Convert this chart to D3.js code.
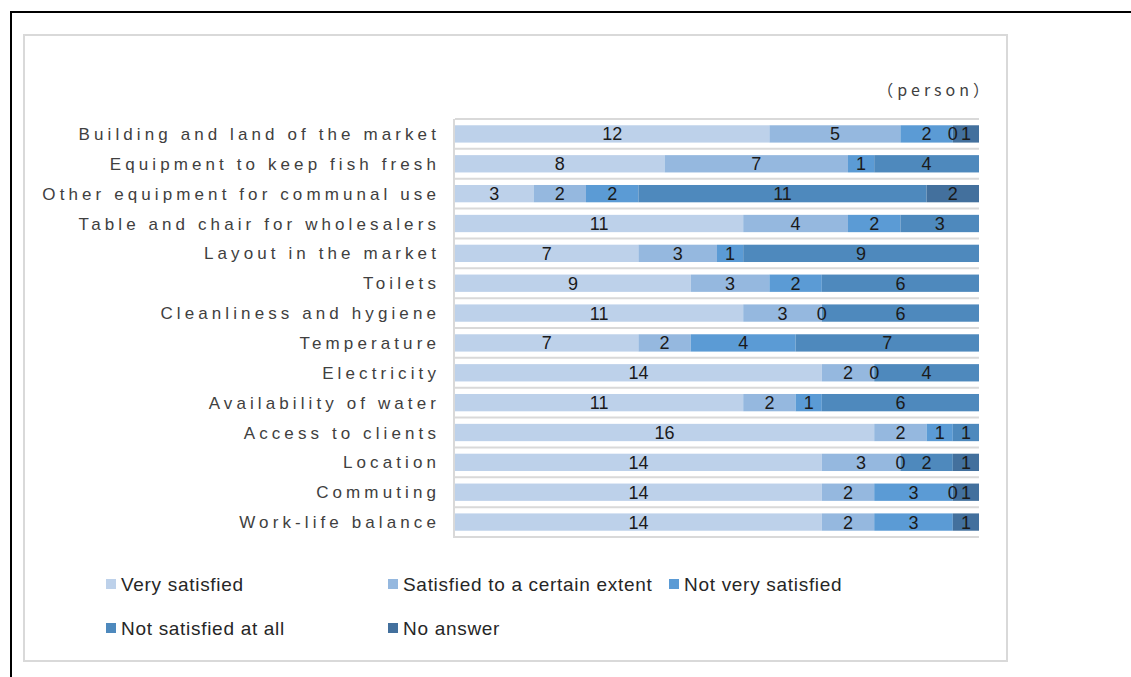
<!DOCTYPE html>
<html><head><meta charset="utf-8">
<script src="https://cdn.jsdelivr.net/npm/d3@7/dist/d3.min.js"></script>
<style>html,body{margin:0;padding:0;background:#fff;overflow:hidden}</style>
</head><body><svg id="c" width="1131" height="677"></svg>
<script>
const categories = ["Building and land of the market","Equipment to keep fish fresh","Other equipment for communal use","Table and chair for wholesalers","Layout in the market","Toilets","Cleanliness and hygiene","Temperature","Electricity","Availability of water","Access to clients","Location","Commuting","Work-life balance"];
const seriesNames = ["Very satisfied","Satisfied to a certain extent","Not very satisfied","Not satisfied at all","No answer"];
const verySatisfied = [12,8,3,11,7,9,11,7,14,11,16,14,14,14];
const satisfiedSome = [5,7,2,4,3,3,3,2,2,2,2,3,2,2];
const notVery = [2,1,2,2,1,2,0,4,0,1,1,0,3,3];
const notAtAll = [0,4,11,3,9,6,6,7,4,6,1,2,0,null];
const noAnswer = [1,null,2,null,null,null,null,null,null,null,null,1,1,1];
const unitLabel = "（person）";
const colors = ["#bdd1ea","#95b8df","#5b9bd5","#4e89bd","#43709d"];

const seriesVals = [verySatisfied, satisfiedSome, notVery, notAtAll, noAnswer];
const svg = d3.select("#c");

// frames
svg.append("path").attr("d","M11,677 L11,12 L1131,12").attr("fill","none").attr("stroke","#000").attr("stroke-width",2);
svg.append("rect").attr("x",24).attr("y",35).attr("width",983).attr("height",626).attr("fill","#fff").attr("stroke","#d9d9d9").attr("stroke-width",2);

const x = d3.scaleLinear().domain([0,20]).range([455,979]);
const y = d3.scaleBand().domain(categories).range([119,537]).paddingInner(0.42).paddingOuter(0.21);

// gridlines at band boundaries
const step = y.step();
const bounds = d3.range(categories.length+1).map(i => 119 + i*step);
svg.append("g").selectAll("line").data(bounds).join("line")
  .attr("x1",455).attr("x2",979).attr("y1",d=>d).attr("y2",d=>d)
  .attr("stroke","#d9d9d9").attr("stroke-width",2);
svg.append("line").attr("x1",454).attr("x2",454).attr("y1",119).attr("y2",538).attr("stroke","#d9d9d9").attr("stroke-width",2);

const rows = categories.map((c,i)=>{const o={cat:c}; seriesNames.forEach((s,j)=>o[s]=seriesVals[j][i]||0); return o;});
const stack = d3.stack().keys(seriesNames)(rows);

const g = svg.append("g");
stack.forEach((layer,j)=>{
  g.append("g").selectAll("rect").data(layer).join("rect")
    .attr("x",d=>x(d[0])).attr("width",d=>x(d[1])-x(d[0]))
    .attr("y",d=>y(d.data.cat)).attr("height",y.bandwidth())
    .attr("fill",colors[j]);
});
stack.forEach((layer,j)=>{
  g.append("g").selectAll("text").data(layer.filter((d,i)=>seriesVals[j][i]!==null)).join("text")
    .attr("x",d=>(x(d[0])+x(d[1]))/2).attr("y",d=>y(d.data.cat)+y.bandwidth()/2+6.5)
    .attr("text-anchor","middle").attr("font-family","Liberation Sans, Arial, sans-serif")
    .attr("font-size",18).attr("fill","#1a1a1a")
    .text(d=>d[1]-d[0]);
});

// category labels
svg.append("g").selectAll("text").data(categories).join("text")
  .attr("x",440).attr("y",d=>y(d)+y.bandwidth()/2+6)
  .attr("text-anchor","end").attr("font-family","Liberation Sans, Arial, sans-serif")
  .attr("font-size",17).attr("letter-spacing","4.1px").attr("fill","#404040")
  .text(d=>d);

svg.append("text").attr("x",993).attr("y",96).attr("text-anchor","end")
  .attr("font-family","Noto Sans CJK JP, sans-serif").attr("font-size",16).attr("letter-spacing","4px").attr("fill","#404040").text(unitLabel);

// legend
const legPos = [[106,584],[388,584],[669,584],[106,628],[388,628]];
const lg = svg.append("g").selectAll("g").data(seriesNames).join("g")
  .attr("transform",(d,i)=>`translate(${legPos[i][0]},${legPos[i][1]})`);
lg.append("rect").attr("x",0).attr("y",-5).attr("width",10).attr("height",10).attr("fill",(d,i)=>colors[i]);
lg.append("text").attr("x",15).attr("y",7).attr("font-family","Liberation Sans, Arial, sans-serif")
  .attr("font-size",19).attr("letter-spacing","0.7px").attr("fill","#262626").text(d=>d);
</script></body></html>
